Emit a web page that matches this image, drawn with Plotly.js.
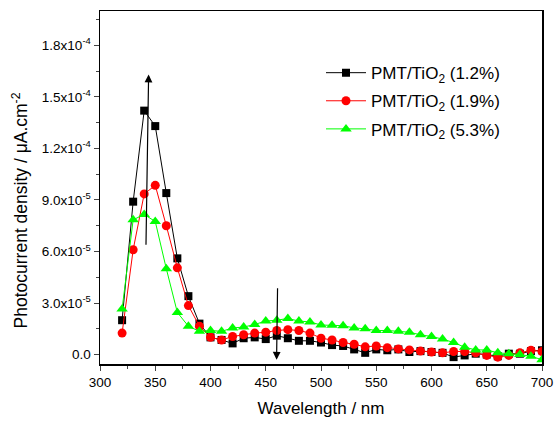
<!DOCTYPE html>
<html>
<head>
<meta charset="utf-8">
<script src="https://cdn.plot.ly/plotly-3.0.1.min.js"></script>
<style>
html,body{margin:0;padding:0;background:#fff;}
#chart{width:555px;height:421px;}
</style>
</head>
<body>
<div id="chart"></div>
<script>
const wavelength = [320,330,340,350,360,370,380,390,400,410,420,430,440,450,460,470,480,490,500,510,520,530,540,550,560,570,580,590,600,610,620,630,640,650,660,670,680,690,700];

const pmt12 = [2.0e-5,8.9e-5,14.2e-5,13.3e-5,9.4e-5,5.6e-5,3.4e-5,1.8e-5,1.0e-5,0.85e-5,0.65e-5,0.95e-5,1.0e-5,0.9e-5,1.1e-5,0.95e-5,0.8e-5,0.8e-5,0.7e-5,0.55e-5,0.5e-5,0.3e-5,0.1e-5,0.3e-5,0.25e-5,0.3e-5,0.15e-5,0.2e-5,0.15e-5,0.1e-5,-0.15e-5,-0.05e-5,0.05e-5,0.0,-0.1e-5,0.05e-5,0.05e-5,0.2e-5,0.25e-5];

const pmt19 = [1.25e-5,6.1e-5,9.35e-5,9.85e-5,7.5e-5,5.05e-5,2.85e-5,1.65e-5,1.0e-5,0.85e-5,1.05e-5,1.15e-5,1.25e-5,1.3e-5,1.4e-5,1.45e-5,1.4e-5,1.25e-5,0.95e-5,0.85e-5,0.7e-5,0.6e-5,0.45e-5,0.5e-5,0.4e-5,0.33e-5,0.27e-5,0.2e-5,0.15e-5,0.1e-5,0.18e-5,0.18e-5,0.1e-5,-0.05e-5,-0.15e-5,-0.05e-5,0.1e-5,0.25e-5,0.18e-5];

const pmt53 = [2.65e-5,7.85e-5,8.15e-5,7.75e-5,5.0e-5,2.45e-5,1.65e-5,1.35e-5,1.4e-5,1.35e-5,1.55e-5,1.6e-5,1.75e-5,1.95e-5,2.0e-5,2.1e-5,1.95e-5,1.9e-5,1.72e-5,1.7e-5,1.68e-5,1.55e-5,1.5e-5,1.4e-5,1.4e-5,1.35e-5,1.3e-5,1.15e-5,1.05e-5,0.9e-5,0.7e-5,0.43e-5,0.27e-5,0.27e-5,0.1e-5,0.05e-5,0.0,-0.1e-5,-0.3e-5];

const seriesNames = ['PMT/TiO<sub>2</sub> (1.2%)','PMT/TiO<sub>2</sub> (1.9%)','PMT/TiO<sub>2</sub> (5.3%)'];

const yTickVals = [0,3e-5,6e-5,9e-5,1.2e-4,1.5e-4,1.8e-4];
const yTickText = ['0.0','3.0x10<sup>-5</sup>','6.0x10<sup>-5</sup>','9.0x10<sup>-5</sup>','1.2x10<sup>-4</sup>','1.5x10<sup>-4</sup>','1.8x10<sup>-4</sup>'];
const xTickVals = [300,350,400,450,500,550,600,650,700];

// arrows: [tailX, tailY, headX, headY]
const arrowUp = [341.6, 6.3e-5, 344, 16.3e-5];
const arrowDown = [460.7, 3.95e-5, 459.8, -0.3e-5];

const font = 'Liberation Sans, Arial, sans-serif';

const traces = [
  {x: wavelength, y: pmt12, name: seriesNames[0], legendgroup: 'a', mode: 'lines+markers',
   line: {color: '#000000', width: 1}, marker: {symbol: 'square', size: 8, color: '#000000'}},
  {x: wavelength, y: pmt19, name: seriesNames[1], legendgroup: 'b', mode: 'lines+markers',
   line: {color: '#ff0000', width: 1}, marker: {symbol: 'circle', size: 9, color: '#ff0000'}},
  {x: wavelength, y: pmt53, name: seriesNames[2], legendgroup: 'c', mode: 'lines+markers',
   line: {color: '#00ff00', width: 1}, marker: {symbol: 'triangle-up', size: 10, color: '#00ff00'}}
];

function arrowAnn(a){
  return {x: a[2], y: a[3], ax: a[0], ay: a[1], xref: 'x', yref: 'y', axref: 'x', ayref: 'y',
    showarrow: true, arrowhead: 2, arrowsize: 1.3, arrowwidth: 1.2, arrowcolor: '#000', text: ''};
}

const layout = {
  width: 555, height: 421,
  margin: {l: 100, r: 13, t: 11, b: 57},
  paper_bgcolor: '#fff', plot_bgcolor: '#fff',
  font: {family: font, color: '#000', size: 13},
  showlegend: true,
  legend: {x: 0.5, y: 0.875, xanchor: 'left', yanchor: 'top', bgcolor: 'rgba(0,0,0,0)',
    font: {family: font, size: 17, color: '#000'}, tracegroupgap: 3, itemwidth: 40},
  xaxis: {range: [300, 700], tickvals: xTickVals, ticks: 'outside', ticklen: 5, tickwidth: 1,
    showline: true, linewidth: 1.5, linecolor: '#000', mirror: true, showgrid: false, zeroline: false,
    minor: {dtick: 25, tick0: 300, ticks: 'outside', ticklen: 3, tickwidth: 1, showgrid: false},
    tickfont: {family: font, size: 13.5},
    title: {text: 'Wavelength / nm', font: {family: font, size: 17}, standoff: 13}},
  yaxis: {range: [-0.55e-5, 2.0e-4], tickvals: yTickVals, ticktext: yTickText, ticks: 'outside', ticklen: 5, tickwidth: 1,
    showline: true, linewidth: 1.5, linecolor: '#000', mirror: true, showgrid: false, zeroline: false,
    minor: {dtick: 1.5e-5, tick0: 0, ticks: 'outside', ticklen: 3, tickwidth: 1, showgrid: false},
    tickfont: {family: font, size: 13.5}},
  annotations: [arrowAnn(arrowUp), arrowAnn(arrowDown),
    {text: 'Photocurrent density / μA.cm<sup>-2</sup>', textangle: -90, xref: 'paper', yref: 'paper',
     x: -0.181, y: 0.435, xanchor: 'center', yanchor: 'middle', showarrow: false,
     font: {family: font, size: 17.5, color: '#000'}}]
};

Plotly.newPlot('chart', traces, layout, {displayModeBar: false, staticPlot: true});
</script>
</body>
</html>
